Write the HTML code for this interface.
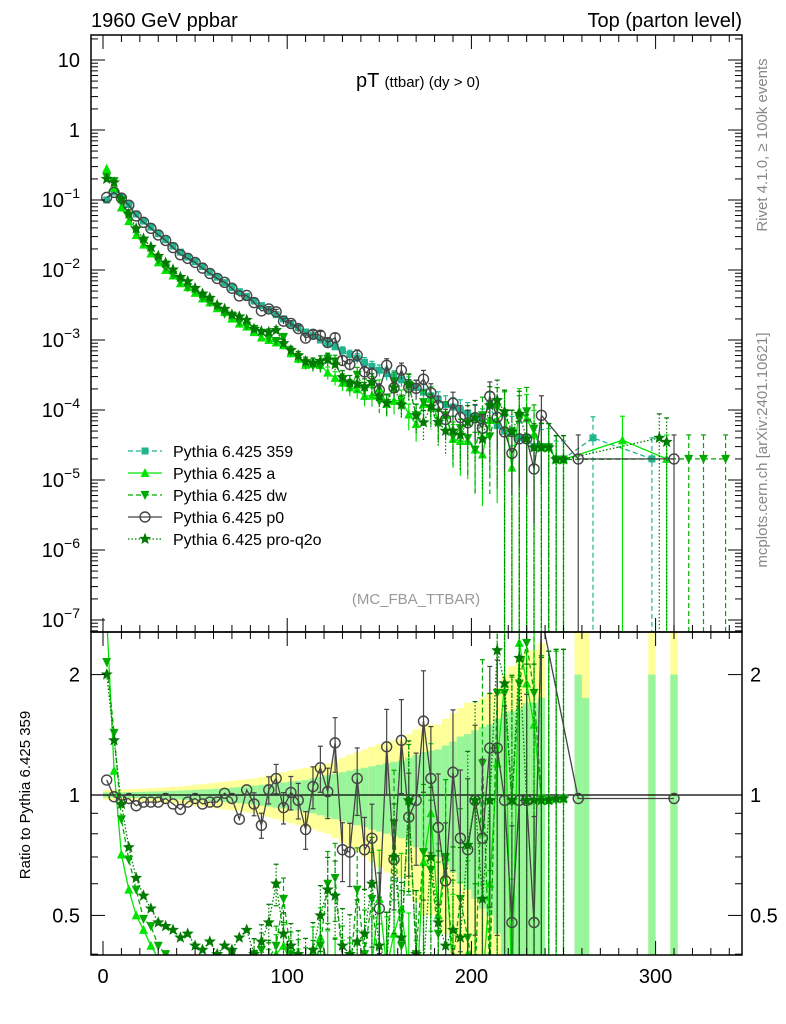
<!DOCTYPE html>
<html><head><meta charset="utf-8"><style>
html,body{margin:0;background:#fff;width:786px;height:1024px;overflow:hidden;}
svg{display:block;font-family:"Liberation Sans",sans-serif;}
</style></head><body>
<svg id="chart" width="786" height="1024" viewBox="0 0 786 1024">
<defs>
<clipPath id="cm"><rect x="91" y="35" width="651" height="597"/></clipPath>
<clipPath id="cr"><rect x="91" y="632" width="651" height="323"/></clipPath>
</defs>
<g id="bands" clip-path="url(#cr)"></g>
<g id="ratio" clip-path="url(#cr)"></g>
<g id="main" clip-path="url(#cm)"></g>
<g id="axes"></g>
<text x="91" y="27" font-size="20">1960 GeV ppbar</text>
<text x="742" y="27" font-size="20" text-anchor="end">Top (parton level)</text>
<text x="418" y="87" text-anchor="middle"><tspan font-size="20">pT </tspan><tspan font-size="15">(ttbar) (dy &gt; 0)</tspan></text>
<text x="416" y="604" font-size="15" fill="#999" text-anchor="middle">(MC_FBA_TTBAR)</text>
<text transform="translate(767,145) rotate(-90)" font-size="15" fill="#888" text-anchor="middle">Rivet 4.1.0, ≥ 100k events</text>
<text transform="translate(767,450) rotate(-90)" font-size="15" fill="#888" text-anchor="middle">mcplots.cern.ch [arXiv:2401.10621]</text>
<text transform="translate(30,795) rotate(-90)" font-size="15" text-anchor="middle">Ratio to Pythia 6.425 359</text>
<g id="legend"></g>
</svg>
<script>
const bins = Array.from({length:63},(_,i)=>2+4*i);
const refVals = [0.10,0.13,0.11,0.086,0.063,0.050,0.041,0.033,0.027,0.022,0.018,0.0153,0.0131,0.0112,0.0093,0.0079,0.0066,0.0056,0.0049,0.0042,0.0036,0.0031,0.0027,0.0023,0.0020,0.0017,0.00150,0.00130,0.00115,0.00100,0.00090,0.00080,0.00070,0.00062,0.00055,0.00048,0.00042,0.00037,0.00033,0.00030,0.00027,0.00024,0.00021,0.00018,0.00016,0.00014,0.00012,0.00011,0.00010,0.00009,0.00008,0.00007,0.00012,0.00006,0.00005,0.00005,0.00004,0.00004,0.00003,0.00003,0.00003,0.00002,0.00002];
const ratioP0 = [1.09,0.99,0.97,0.98,0.94,0.96,0.96,0.96,0.98,0.95,0.92,0.96,0.98,0.95,0.96,0.96,1.01,0.98,0.87,1.03,0.95,0.84,1.03,1.10,0.93,1.015,0.97,0.82,1.05,1.17,1.02,1.35,0.73,0.72,1.10,0.73,0.78,0.52,1.32,0.69,1.37,0.88,0.97,1.53,1.10,0.83,0.61,1.14,0.78,0.73,0.97,0.78,1.31,1.31,0.97,0.48,0.97,0.97,0.48,2.8,null,null,null];
const ratioA = [2.8,1.15,0.71,0.58,0.50,0.46,0.42,0.39,0.37,0.38,0.36,0.37,0.36,0.35,0.37,0.36,0.38,0.36,0.35,0.37,0.36,0.35,0.37,0.40,0.42,0.38,0.36,0.34,0.40,0.44,0.38,0.36,0.35,0.34,0.36,0.33,0.38,0.55,0.37,0.45,0.52,0.36,0.30,0.68,0.9,0.5,0.7,0.35,0.36,0.4,0.34,0.33,0.6,1.2,1.9,0.3,2.4,1.9,1.5,0.98,0.97,0.98,0.98];
const ratioDw = [2.15,1.43,0.87,0.69,0.58,0.49,0.47,0.42,0.40,0.39,0.38,0.37,0.39,0.36,0.37,0.38,0.36,0.40,0.37,0.38,0.40,0.41,0.39,0.42,0.55,0.40,0.38,0.36,0.37,0.42,0.60,0.62,0.38,0.35,0.58,0.40,0.55,0.36,0.38,0.85,0.42,0.95,0.40,0.72,0.65,0.45,0.70,0.38,0.55,0.44,0.34,1.2,0.35,1.8,1.8,0.96,1.9,2.4,1.8,0.98,0.97,0.97,0.98];
const ratioPro = [2.0,1.37,0.95,0.74,0.62,0.56,0.52,0.48,0.47,0.46,0.44,0.45,0.42,0.41,0.43,0.40,0.42,0.41,0.44,0.46,0.40,0.43,0.48,0.60,0.45,0.42,0.40,0.38,0.41,0.50,0.58,0.56,0.42,0.40,0.43,0.45,0.60,0.42,0.38,0.70,0.44,0.97,0.40,0.37,0.70,0.48,0.42,0.46,0.44,0.75,0.97,0.55,0.97,2.3,1.9,0.97,2.2,0.97,0.97,0.97,0.97,0.98,0.98];
const greenErr = [0.015,0.015,0.016,0.017,0.018,0.019,0.02,0.021,0.022,0.024,0.026,0.028,0.03,0.032,0.034,0.037,0.04,0.043,0.046,0.05,0.055,0.06,0.065,0.07,0.075,0.08,0.085,0.09,0.1,0.11,0.12,0.13,0.14,0.15,0.16,0.17,0.18,0.19,0.2,0.21,0.22,0.24,0.26,0.28,0.29,0.3,0.33,0.36,0.4,0.42,0.45,0.48,0.5,0.55,0.6,0.62,0.65,0.7,0.7,0.75,0.8,0.8,0.8];
const yellowErr = [0.03,0.03,0.032,0.034,0.036,0.038,0.04,0.042,0.045,0.048,0.05,0.055,0.06,0.065,0.07,0.075,0.08,0.085,0.09,0.095,0.1,0.11,0.12,0.13,0.14,0.15,0.16,0.17,0.18,0.19,0.2,0.22,0.24,0.26,0.28,0.3,0.32,0.34,0.36,0.37,0.38,0.42,0.46,0.5,0.5,0.5,0.55,0.6,0.65,0.7,0.7,0.75,0.8,0.85,1.0,1.1,1.2,1.3,1.3,1.4,1.5,1.5,1.5];
const bandLastIdx = 59;
const tailBandIdx = [64,65,74,77];
const tailBandTop = [2.0,1.75,2.0,2.0];
const tailP0Idx = [64,77];
const tailP0Ratio = [0.98,0.98];
const tailP0Val = [0.00002,0.00002];
const tailRefIdx = [66,74];
const tailRefVal = [0.00004,0.00002];
const tailAIdx = [70,76];
const tailAVal = [0.000037,0.00002];
const tailDwIdx = [79,81,84];
const tailDwVal = [0.00002,0.00002,0.00002];
const tailProIdx = [75,76];
const tailProVal = [0.00004,0.000035];
const xTicks = [0,100,200,300];
const mainTickExp = [1,0,-1,-2,-3,-4,-5,-6,-7];
const ratioTicks = [0.5,1,2];

const NS="http://www.w3.org/2000/svg";
const X=v=>103+1.842*v;
const Y=v=>130-70*Math.log10(v);
const R=r=>795-400*Math.log10(r);
const binX=i=>X(2+4*i);
function el(tag,attrs,parent){const e=document.createElementNS(NS,tag);for(const k in attrs)e.setAttribute(k,attrs[k]);parent.appendChild(e);return e;}
const gMain=document.getElementById('main'),gRatio=document.getElementById('ratio'),gBands=document.getElementById('bands'),gAxes=document.getElementById('axes'),gLeg=document.getElementById('legend');

function marker(g,type,x,y,col){
  let m;
  if(type==='sq'){m=el('rect',{x:x-3.5,y:y-3.5,width:7,height:7,fill:col},g);}
  else if(type==='up'){m=el('path',{d:`M${x},${y-5}L${x+4.5},${y+4}L${x-4.5},${y+4}Z`,fill:col},g);}
  else if(type==='dn'){m=el('path',{d:`M${x},${y+5}L${x+4.5},${y-4}L${x-4.5},${y-4}Z`,fill:col},g);}
  else if(type==='ci'){m=el('circle',{cx:x,cy:y,r:5,fill:'none',stroke:col,'stroke-width':1.4},g);}
  else {let d='';for(let k=0;k<10;k++){const a=-Math.PI/2+k*Math.PI/5,rr=k%2?2.4:5.5;d+=(k?'L':'M')+(x+rr*Math.cos(a)).toFixed(1)+','+(y+rr*Math.sin(a)).toFixed(1);}m=el('path',{d:d+'Z',fill:col,stroke:col,'stroke-width':0.6},g);}
  return m;
}

bins.forEach((b,i)=>{
  if(i>bandLastIdx)return;
  const x0=binX(i)-3.7,w=7.4;
  const y1=R(1+yellowErr[i]),y2=R(Math.max(0.05,1-yellowErr[i]));
  const r1=el('rect',{x:x0,y:y1,width:w,height:y2-y1,fill:'#ffff99'},gBands);
  
  
  const g1=R(1+greenErr[i]),g2=R(Math.max(0.05,1-greenErr[i]));
  const r2=el('rect',{x:x0,y:g1,width:w,height:g2-g1,fill:'#99f599'},gBands);
  
  
});
tailBandIdx.forEach((idx,k)=>{
  const x0=binX(idx)-3.7;
  const r1=el('rect',{x:x0,y:632,width:7.4,height:323,fill:'#ffff99'},gBands);
  
  
  const r2=el('rect',{x:x0,y:R(tailBandTop[k]),width:7.4,height:955-R(tailBandTop[k]),fill:'#99f599'},gBands);
  
  
});
const l1=el('line',{x1:91,x2:742,y1:R(1),y2:R(1),stroke:'#000','stroke-width':1.2},gBands);



const series=[
 {name:'Pythia 6.425 359',key:'s359',col:'#1fb58f',mk:'sq',dash:'5,3',ratio:null,tIdx:tailRefIdx,tVal:tailRefVal,ek:1.0},
 {name:'Pythia 6.425 a',key:'sa',col:'#00e600',mk:'up',dash:'',ratio:ratioA,tIdx:tailAIdx,tVal:tailAVal,ek:1.7},
 {name:'Pythia 6.425 dw',key:'sdw',col:'#00aa00',mk:'dn',dash:'5,3',ratio:ratioDw,tIdx:tailDwIdx,tVal:tailDwVal,ek:1.7},
 {name:'Pythia 6.425 p0',key:'sp0',col:'#444444',mk:'ci',dash:'',ratio:ratioP0,tIdx:tailP0Idx,tVal:tailP0Val,ek:1.2},
 {name:'Pythia 6.425 pro-q2o',key:'spro',col:'#007a00',mk:'st',dash:'1.5,2',ratio:ratioPro,tIdx:tailProIdx,tVal:tailProVal,ek:1.7}
];

series.forEach((s)=>{
  const pts=[];
  bins.forEach((b,i)=>{
    const r=s.ratio?s.ratio[i]:1;
    if(r==null)return;
    pts.push({i,v:refVals[i]*r,r});
  });
  s.tIdx.forEach((idx,k)=>pts.push({i:idx,v:s.tVal[k],r:null}));
  pts.sort((a,b)=>a.i-b.i);
  const gm=el('g',{},gMain);
  
  
  el('polyline',{points:pts.map(p=>binX(p.i).toFixed(1)+','+Y(p.v).toFixed(1)).join(' '),fill:'none',stroke:s.col,'stroke-width':1.3,'stroke-dasharray':s.dash},gm);
  pts.forEach(p=>{
    const x=binX(p.i),y=Y(p.v);
    if(p.i>=22){
      const e=(p.i<63?greenErr[p.i]:1)*s.ek;
      const lo=p.v*(1-e);
      const yl=lo>0?Y(lo):640,yu=Y(p.v*(1+Math.min(e,1.2)));
      el('line',{x1:x,x2:x,y1:yu,y2:yl,stroke:s.col,'stroke-width':1.2,'stroke-dasharray':s.dash},gm);
      el('line',{x1:x-2.5,x2:x+2.5,y1:yu,y2:yu,stroke:s.col,'stroke-width':1.2},gm);
    }
    const m=marker(gm,s.mk,x,y,s.col);
    
    
  });
  if(!s.ratio)return;
  const gr=el('g',{},gRatio);
  
  
  const rp=pts.filter(p=>p.r!=null);
  if(s.key==='sp0')tailP0Idx.forEach((idx,k)=>rp.push({i:idx,r:tailP0Ratio[k]}));
  const clampR=r=>Math.min(3.2,Math.max(0.3,r));
  el('polyline',{points:rp.map(p=>binX(p.i).toFixed(1)+','+R(clampR(p.r)).toFixed(1)).join(' '),fill:'none',stroke:s.col,'stroke-width':1.3,'stroke-dasharray':s.dash},gr);
  rp.forEach(p=>{
    const x=binX(p.i),y=R(clampR(p.r));
    if(p.i>=20&&p.i<63){
      const e=greenErr[p.i]*s.ek;
      const yu=R(p.r*(1+e)),yl=R(Math.max(0.05,p.r*(1-e)));
      el('line',{x1:x,x2:x,y1:yu,y2:yl,stroke:s.col,'stroke-width':1.2,'stroke-dasharray':s.dash},gr);
      el('line',{x1:x-2.5,x2:x+2.5,y1:yu,y2:yu,stroke:s.col,'stroke-width':1.2},gr);
      el('line',{x1:x-2.5,x2:x+2.5,y1:yl,y2:yl,stroke:s.col,'stroke-width':1.2},gr);
    }
    const m=marker(gr,s.mk,x,y,s.col);
    
    
  });
});

series.forEach((s,k)=>{
  const y=451+22*k;
  const g=el('g',{},gLeg);
  
  
  el('line',{x1:128,x2:162,y1:y,y2:y,stroke:s.col,'stroke-width':1.3,'stroke-dasharray':s.dash},g);
  marker(g,s.mk,145,y,s.col);
  const t=el('text',{x:173,y:y+6,'font-size':16},g);
  t.textContent=s.name;
});

function frame(y0,h,name){const r=el('rect',{x:91,y:y0,width:651,height:h,fill:'none',stroke:'#000','stroke-width':1.5},gAxes);}
frame(35,597,'main-frame');frame(632,323,'ratio-frame');
for(let v=0;v<=340;v+=10){
  const x=X(v),L=(v%100===0)?14:7;
  [[35,1],[632,-1],[632,1],[955,-1]].forEach(([y,d])=>el('line',{x1:x,x2:x,y1:y,y2:y+d*L,stroke:'#000','stroke-width':1},gAxes));
}
xTicks.forEach(v=>{
  const t=el('text',{x:X(v),y:983,'font-size':20,'text-anchor':'middle'},gAxes);
  
  
  t.textContent=String(v);
});
for(let e=-8;e<=1;e++){
  for(let m=1;m<10;m++){
    const y=Y(m*Math.pow(10,e));
    if(y<35||y>632)continue;
    const L=m===1?14:7;
    el('line',{x1:91,x2:91+L,y1:y,y2:y,stroke:'#000'},gAxes);
    el('line',{x1:742,x2:742-L,y1:y,y2:y,stroke:'#000'},gAxes);
  }
}
mainTickExp.forEach(e=>{
  const t=el('text',{x:80,y:Y(Math.pow(10,e))+7,'font-size':20,'text-anchor':'end'},gAxes);
  
  
  if(e===0)t.textContent='1';
  else if(e===1)t.textContent='10';
  else{t.textContent='10';const s=el('tspan',{dy:-9,'font-size':14},t);s.textContent=String(e).replace('-','−');}
});
[0.4,0.5,0.6,0.7,0.8,0.9,1,2].forEach(r=>{
  const y=R(r),L=(r===0.5||r===1||r===2)?14:7;
  el('line',{x1:91,x2:91+L,y1:y,y2:y,stroke:'#000'},gAxes);
  el('line',{x1:742,x2:742-L,y1:y,y2:y,stroke:'#000'},gAxes);
});
ratioTicks.forEach(r=>{
  const t=el('text',{x:80,y:R(r)+7,'font-size':20,'text-anchor':'end'},gAxes);
  
  
  t.textContent=String(r);
  const t2=el('text',{x:750,y:R(r)+7,'font-size':20},gAxes);
  
  
  t2.textContent=String(r);
});
</script>
</body></html>
